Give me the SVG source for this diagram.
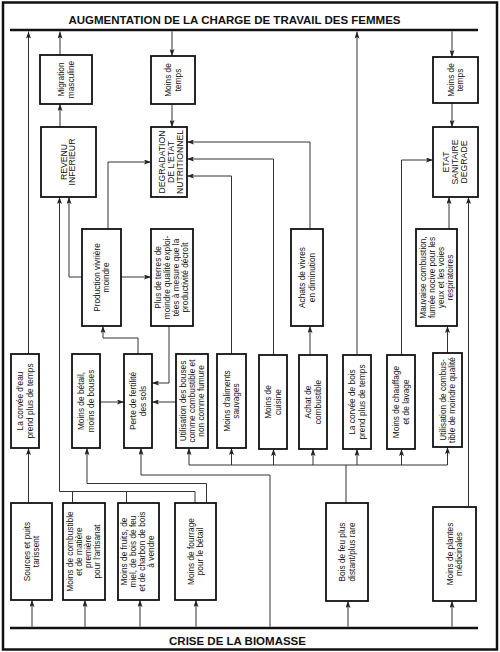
<svg xmlns="http://www.w3.org/2000/svg" width="500" height="652" viewBox="0 0 500 652">
<defs>
<style>
.box{fill:#fff;stroke:#111;stroke-width:1.8}
.t{font-family:"Liberation Sans",Arial,sans-serif;font-size:8.3px;fill:#111;text-anchor:middle}
.tc{font-family:"Liberation Sans",Arial,sans-serif;font-size:8.7px;fill:#111;text-anchor:middle}
.hd{font-family:"Liberation Sans",Arial,sans-serif;font-size:11.5px;font-weight:bold;fill:#111;text-anchor:middle}
.bar{stroke:#111;stroke-width:2.6;fill:none}
.c path{fill:none;stroke:#333;stroke-width:1}
.c path.a{marker-end:url(#ah)}
</style>
<marker id="ah" viewBox="0 0 7 5" refX="7" refY="2.5" markerWidth="7" markerHeight="5" markerUnits="userSpaceOnUse" orient="auto"><path d="M0,0 L7,2.5 L0,5 L1.5,2.5 z" fill="#222"/></marker>
</defs>
<rect x="0" y="0" width="500" height="652" fill="#fff"/>
<rect x="3" y="2.5" width="494" height="647" fill="none" stroke="#111" stroke-width="2.5"/>

<g id="top-bar">
<text class="hd" x="234.5" y="23.5">AUGMENTATION DE LA CHARGE DE TRAVAIL DES FEMMES</text>
<line class="bar" x1="10" y1="30" x2="478" y2="30"/>
</g>
<g id="bottom-bar">
<line class="bar" x1="10" y1="628" x2="478" y2="628"/>
<text class="hd" x="237.5" y="645">CRISE DE LA BIOMASSE</text>
</g>

<g id="connectors" class="c">
<path class="a" d="M28.5,354 V31.5"/>
<path class="a" d="M60,55 V31.5"/>
<path class="a" d="M172,31.3 V56"/>
<path class="a" d="M172,104 V127"/>
<path class="a" d="M60,127 V104"/>
<path class="a" d="M357,355 V31.5"/>
<path class="a" d="M452,31.3 V57"/>
<path class="a" d="M452,103 V127"/>
<path class="a" d="M108,229 V162 H151"/>
<path class="a" d="M82,277 H69 V197"/>
<path class="a" d="M121,277 H151"/>
<path class="a" d="M169,326 V383 H152"/>
<path class="a" d="M138,354 V338 H103 V326"/>
<path class="a" d="M100,402 H124"/>
<path class="a" d="M176,402 H152"/>
<path class="a" d="M231.5,354 V176 H187"/>
<path class="a" d="M273.5,355 V159 H187"/>
<path class="a" d="M310,229 V142 H187"/>
<path class="a" d="M310,355 V326"/>
<path class="a" d="M401.5,355 V160 H433"/>
<path class="a" d="M447.5,353 V326"/>
<path class="a" d="M449,229 V197"/>
<path class="a" d="M468.5,507 V197"/>
<path class="a" d="M28.5,503 V448"/>
<path class="a" d="M32,626.7 V600"/>
<path class="a" d="M85,626.7 V600"/>
<path class="a" d="M140,626.7 V600"/>
<path class="a" d="M196,626.7 V600"/>
<path class="a" d="M348,626.7 V601"/>
<path class="a" d="M452,626.7 V601"/>
<path class="a" d="M270,626.7 V475 H141 V448"/>
<path class="a" d="M206.5,503 V483.5 H87 V448"/>
<path class="a" d="M195,503 V491.5 H59.5 V197"/>
<path d="M72.5,503 V491.5"/>
<path d="M126.5,503 V491.5"/>
<path d="M346,503 V465"/>
<path d="M189,465 H447.5"/>
<path class="a" d="M189,465 V448"/>
<path class="a" d="M231.5,465 V448"/>
<path class="a" d="M273.5,465 V449"/>
<path class="a" d="M313,465 V449"/>
<path class="a" d="M357,465 V449"/>
<path class="a" d="M401.5,465 V449"/>
<path class="a" d="M447.5,465 V447"/>
</g>

<g id="migration"><rect class="box" x="40" y="55" width="52" height="49"/>
<text class="t" transform="translate(66,79.5) rotate(-90)"><tspan x="0" y="-1.8">Migration</tspan><tspan x="0" y="7.6">masculine</tspan></text></g>
<g id="moins-temps-1"><rect class="box" x="151" y="56" width="44" height="48"/>
<text class="t" transform="translate(173,80) rotate(-90)"><tspan x="0" y="-1.8">Moins de</tspan><tspan x="0" y="7.6">temps</tspan></text></g>
<g id="moins-temps-2"><rect class="box" x="433" y="57" width="45" height="46"/>
<text class="t" transform="translate(455.5,80) rotate(-90)"><tspan x="0" y="-1.8">Moins de</tspan><tspan x="0" y="7.6">temps</tspan></text></g>

<g id="revenu"><rect class="box" x="41" y="127" width="55" height="70"/>
<text class="tc" transform="translate(67.5,162) rotate(-90)"><tspan x="0" y="-1">REVENU</tspan><tspan x="0" y="7.7">INFERIEUR</tspan></text></g>
<g id="degradation"><rect class="box" x="151" y="127" width="36" height="70"/>
<text class="tc" transform="translate(171,162) rotate(-90)"><tspan x="0" y="-5.6">DEGRADATION</tspan><tspan x="0" y="3.1">DE L'ETAT</tspan><tspan x="0" y="11.8">NUTRITIONNEL</tspan></text></g>
<g id="etat-sanitaire"><rect class="box" x="433" y="127" width="45" height="70"/>
<text class="tc" transform="translate(455,162) rotate(-90)"><tspan x="0" y="-5.6">ETAT</tspan><tspan x="0" y="3.1">SANITAIRE</tspan><tspan x="0" y="11.8">DEGRADE</tspan></text></g>

<g id="production"><rect class="box" x="82" y="229" width="39" height="97"/>
<text class="t" transform="translate(101.5,277.5) rotate(-90)"><tspan x="0" y="-1.8">Production vivrière</tspan><tspan x="0" y="7.6">moindre</tspan></text></g>
<g id="plus-terres"><rect class="box" x="151" y="229" width="42" height="97"/>
<text class="t" transform="translate(172,277.5) rotate(-90)"><tspan x="0" y="-10.7">Plus de terres de</tspan><tspan x="0" y="-1.7">moindre qualité exploi-</tspan><tspan x="0" y="7.3">tées à mesure que la</tspan><tspan x="0" y="16.3">productivité décroît</tspan></text></g>
<g id="achats-vivres"><rect class="box" x="291" y="229" width="32" height="97"/>
<text class="t" transform="translate(307,277.5) rotate(-90)"><tspan x="0" y="-1.8">Achats de vivres</tspan><tspan x="0" y="7.6">en diminution</tspan></text></g>
<g id="mauvaise-combustion"><rect class="box" x="416" y="229" width="41" height="97"/>
<text class="t" transform="translate(436.5,277.5) rotate(-90)"><tspan x="0" y="-10.7">Mauvaise combustion,</tspan><tspan x="0" y="-1.7">fumée nocive pour les</tspan><tspan x="0" y="7.3">yeux et les voies</tspan><tspan x="0" y="16.3">respiratoires</tspan></text></g>

<g id="corvee-eau"><rect class="box" x="11" y="354" width="28" height="94"/>
<text class="t" transform="translate(25,401) rotate(-90)"><tspan x="0" y="-1.8">La corvée d'eau</tspan><tspan x="0" y="7.6">prend plus de temps</tspan></text></g>
<g id="moins-betail"><rect class="box" x="72" y="354" width="28" height="94"/>
<text class="t" transform="translate(86,401) rotate(-90)"><tspan x="0" y="-1.8">Moins de bétail,</tspan><tspan x="0" y="7.6">moins de bouses</tspan></text></g>
<g id="perte-fertilite"><rect class="box" x="124" y="354" width="28" height="94"/>
<text class="t" transform="translate(138,401) rotate(-90)"><tspan x="0" y="-1.8">Perte de fertilité</tspan><tspan x="0" y="7.6">des sols</tspan></text></g>
<g id="utilisation-bouses"><rect class="box" x="176" y="354" width="32" height="94"/>
<text class="t" transform="translate(192,401) rotate(-90)"><tspan x="0" y="-6.2">Utilisation des bouses</tspan><tspan x="0" y="2.8">comme combustible et</tspan><tspan x="0" y="11.8">non comme fumure</tspan></text></g>
<g id="moins-aliments"><rect class="box" x="217" y="354" width="29" height="94"/>
<text class="t" transform="translate(231.5,401) rotate(-90)"><tspan x="0" y="-1.8">Moins d'aliments</tspan><tspan x="0" y="7.6">sauvages</tspan></text></g>
<g id="moins-cuisine"><rect class="box" x="259" y="355" width="28" height="94"/>
<text class="t" transform="translate(273,402) rotate(-90)"><tspan x="0" y="-1.8">Moins de</tspan><tspan x="0" y="7.6">cuisine</tspan></text></g>
<g id="achat-combustible"><rect class="box" x="299" y="355" width="28" height="94"/>
<text class="t" transform="translate(313,402) rotate(-90)"><tspan x="0" y="-1.8">Achat de</tspan><tspan x="0" y="7.6">combustible</tspan></text></g>
<g id="corvee-bois"><rect class="box" x="343" y="355" width="28" height="94"/>
<text class="t" transform="translate(357,402) rotate(-90)"><tspan x="0" y="-1.8">La corvée de bois</tspan><tspan x="0" y="7.6">prend plus de temps</tspan></text></g>
<g id="moins-chauffage"><rect class="box" x="387" y="355" width="28" height="94"/>
<text class="t" transform="translate(401,402) rotate(-90)"><tspan x="0" y="-1.8">Moins de chauffage</tspan><tspan x="0" y="7.6">et de lavage</tspan></text></g>
<g id="combustible-moindre"><rect class="box" x="433" y="353" width="29" height="94"/>
<text class="t" transform="translate(447.5,400) rotate(-90)"><tspan x="0" y="-1.8">Utilisation de combus-</tspan><tspan x="0" y="7.6">tible de moindre qualité</tspan></text></g>

<g id="sources-puits"><rect class="box" x="11" y="503" width="41" height="97"/>
<text class="t" transform="translate(31.5,551.5) rotate(-90)"><tspan x="0" y="-1.8">Sources et puits</tspan><tspan x="0" y="7.6">tarissent</tspan></text></g>
<g id="moins-combustible-artisanat"><rect class="box" x="63" y="503" width="42" height="97"/>
<text class="t" transform="translate(84,551.5) rotate(-90)"><tspan x="0" y="-10.7">Moins de combustible</tspan><tspan x="0" y="-1.7">et de matière</tspan><tspan x="0" y="7.3">première</tspan><tspan x="0" y="16.3">pour l'artisanat</tspan></text></g>
<g id="moins-fruits"><rect class="box" x="118" y="503" width="41" height="97"/>
<text class="t" transform="translate(137.5,551.5) rotate(-90)"><tspan x="0" y="-10.7">Moins de fruits, de</tspan><tspan x="0" y="-1.7">miel, de bois de feu</tspan><tspan x="0" y="7.3">et de charbon de bois</tspan><tspan x="0" y="16.3">à vendre</tspan></text></g>
<g id="moins-fourrage"><rect class="box" x="175" y="503" width="41" height="97"/>
<text class="t" transform="translate(195.5,551.5) rotate(-90)"><tspan x="0" y="-1.8">Moins de fourrage</tspan><tspan x="0" y="7.6">pour le bétail</tspan></text></g>
<g id="bois-feu"><rect class="box" x="326" y="503" width="42" height="98"/>
<text class="t" transform="translate(347,552) rotate(-90)"><tspan x="0" y="-1.8">Bois de feu plus</tspan><tspan x="0" y="7.6">distant/plus rare</tspan></text></g>
<g id="plantes-medicinales"><rect class="box" x="433" y="507" width="43" height="94"/>
<text class="t" transform="translate(454.5,554) rotate(-90)"><tspan x="0" y="-1.8">Moins de plantes</tspan><tspan x="0" y="7.6">médicinales</tspan></text></g>
</svg>
